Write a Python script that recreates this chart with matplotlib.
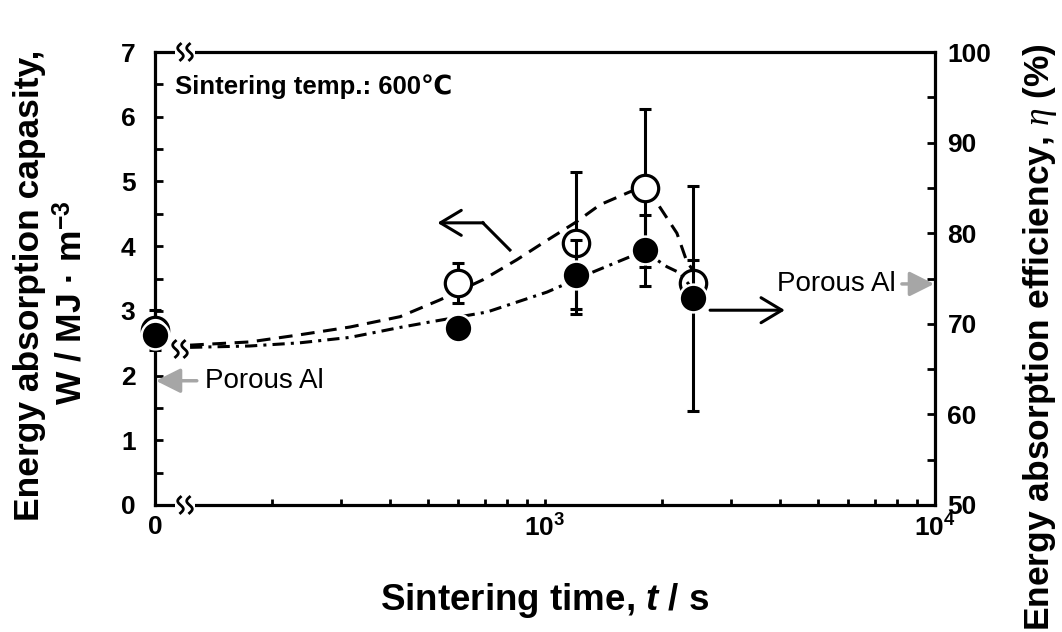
import numpy as np
import matplotlib
matplotlib.use("Agg")
import matplotlib.pyplot as plt
from matplotlib.patches import Rectangle

plt.rcParams['font.family'] = ['Liberation Sans', 'DejaVu Sans']
plt.rcParams['mathtext.fontset'] = 'custom'
plt.rcParams['mathtext.rm'] = 'Liberation Sans'
plt.rcParams['mathtext.bf'] = 'Liberation Sans:bold'
plt.rcParams['mathtext.it'] = 'Liberation Serif:italic'
plt.rcParams['mathtext.bfit'] = 'Liberation Sans:bold:italic'

# ---------------- data ----------------
times = [0, 600, 1200, 1800, 2400]            # sintering time (s); 0 drawn at left edge
capacity = [2.70, 3.43, 4.05, 4.90, 3.43]      # W / MJ m^-3 (open circles)
capacity_err = [0.31, 0.31, 1.10, 1.22, 0.36]
efficiency = [68.8, 69.5, 75.4, 78.1, 72.8]    # eta % (filled circles)
efficiency_err = [1.0, 1.0, 3.8, 3.9, 12.4]

# guide curves (hand drawn trend lines)
cap_curve_t = [123, 175, 235, 316, 425, 538, 693, 847, 988, 1200, 1384, 1652, 1782, 1937, 2179, 2311, 2400]
cap_curve_w = [2.47, 2.52, 2.63, 2.75, 2.91, 3.17, 3.48, 3.79, 4.05, 4.37, 4.64, 4.84, 4.90, 4.67, 4.20, 3.76, 3.62]
eff_curve_t = [123, 175, 235, 316, 425, 507, 710, 1012, 1325, 1652, 1782, 2054, 2221, 2400]
eff_curve_e = [67.4, 67.55, 67.9, 68.5, 69.6, 70.2, 71.3, 73.5, 75.7, 77.4, 78.1, 76.3, 75.6, 73.7]

porous_al_capacity = 1.92
porous_al_efficiency = 74.4

x_ticks = [100, 1000, 10000]
x_ticklabels = ['0', r'$\mathbf{10^{3}}$', r'$\mathbf{10^{4}}$']
y_left_ticks = [0, 1, 2, 3, 4, 5, 6, 7]
y_right_ticks = [50, 60, 70, 80, 90, 100]

XMIN = 100
xpos = [t if t > 0 else XMIN for t in times]

# ---------------- figure ----------------
W, H = 1062, 632
fig = plt.figure(figsize=(W / 100, H / 100), dpi=100)
ax = fig.add_axes([155 / W, 1 - 505 / H, 780 / W, 453 / H])
ax.set_xscale('log')
ax.set_xlim(100, 10000)
ax.set_ylim(0, 7)
ax2 = ax.twinx()
ax2.set_ylim(50, 100)

lw = 2.3
for s in ['left', 'top', 'bottom']:
    ax.spines[s].set_linewidth(lw)
ax.spines['right'].set_visible(False)
for s in ['left', 'top', 'bottom']:
    ax2.spines[s].set_visible(False)
ax2.spines['right'].set_linewidth(lw)

# ticks
ax.set_xticks(x_ticks)
ax.set_xticklabels(x_ticklabels)
ax.xaxis.set_minor_locator(matplotlib.ticker.LogLocator(base=10, subs=np.arange(2, 10)))
ax.xaxis.set_minor_formatter(matplotlib.ticker.NullFormatter())
ax.tick_params(axis='x', which='both', direction='in', length=4, width=2, top=False,
               labelsize=19, pad=7)
ax.set_yticks(y_left_ticks)
ax.yaxis.set_minor_locator(matplotlib.ticker.MultipleLocator(0.5))
ax.tick_params(axis='y', which='both', direction='in', length=6, width=2, right=False,
               labelsize=19, pad=14)
ax2.set_yticks(y_right_ticks)
ax2.yaxis.set_minor_locator(matplotlib.ticker.MultipleLocator(5))
ax2.tick_params(axis='y', which='both', direction='in', length=6, width=2,
                labelsize=19, pad=9)
for lab in ax.get_xticklabels() + ax.get_yticklabels() + ax2.get_yticklabels():
    lab.set_fontweight('bold')

# guide curves
ax.plot(cap_curve_t, cap_curve_w, color='black', lw=2.2, ls=(0, (4.5, 2.8)), zorder=1)
ax2.plot(eff_curve_t, eff_curve_e, color='black', lw=2.2, ls=(0, (4.0, 2.0, 1.0, 2.0)), zorder=1)

# open circles (capacity)
ax.errorbar(xpos, capacity, yerr=capacity_err, fmt='none', ecolor='black',
            elinewidth=2.2, capsize=4.5, capthick=2.2, zorder=2, clip_on=False)
ax.plot(xpos, capacity, 'o', ms=19, mfc='white', mec='black', mew=2.3, zorder=3, clip_on=False)

# filled circles (efficiency)
ax2.errorbar(xpos, efficiency, yerr=efficiency_err, fmt='none', ecolor='black',
             elinewidth=2.2, capsize=4.5, capthick=2.2, zorder=2, clip_on=False)
ax2.plot(xpos, efficiency, 'o', ms=20, mfc='black', mec='white', mew=1.8, zorder=3, clip_on=False)

# axis breaks
def squiggle(axx, xf_px, yf_px):
    h = 8
    yy = np.linspace(-h, h, 40)
    for dx in (-4.5, 4.5):
        xx = xf_px + dx + 2.8 * np.sin(np.pi * yy / h)
        axx.plot(xx / W, 1 - (yf_px + yy) / H, color='black', lw=2.0,
                 transform=fig.transFigure, clip_on=False, zorder=10)

for ypx in (52, 505):
    ax2.add_patch(Rectangle((175 / W, 1 - (ypx + 4) / H), 20 / W, 8 / H,
                            transform=fig.transFigure, facecolor='white', edgecolor='none',
                            clip_on=False, zorder=9))
    squiggle(ax2, 185, ypx)
ax2.add_patch(Rectangle((172 / W, 1 - 360 / H), 18 / W, 22 / H,
                        transform=fig.transFigure, facecolor='white', edgecolor='none',
                        clip_on=False, zorder=9))
squiggle(ax2, 180, 349)

# annotations
ax.text(0.0256, 0.923, 'Sintering temp.: 600\u2103', transform=ax.transAxes,
        fontsize=18.5, fontweight='bold', va='center', ha='left',
        family=['Liberation Sans', 'DejaVu Sans'])

# left black arrow (pointing to capacity axis)
ax.plot([813, 693], [3.94, 4.36], color='black', lw=2.2, zorder=4)
ax.annotate('', xy=(530, 4.36), xytext=(695, 4.36),
            arrowprops=dict(arrowstyle='->,head_length=0.5,head_width=0.3', color='black', lw=2.2,
                            mutation_scale=30, shrinkA=0, shrinkB=0))
# right black arrow (pointing to efficiency axis)
ax2.annotate('', xy=(4121, 71.5), xytext=(2650, 71.5),
             arrowprops=dict(arrowstyle='->,head_length=0.5,head_width=0.3', color='black', lw=2.2,
                             mutation_scale=30, shrinkA=0, shrinkB=0))

# Porous Al reference arrows
ax.annotate('', xy=(100.5, porous_al_capacity), xytext=(128, porous_al_capacity),
            arrowprops=dict(arrowstyle='-|>,head_length=0.5,head_width=0.25', color='#a6a6a6', lw=2.5,
                            mutation_scale=30, shrinkA=0, shrinkB=0), annotation_clip=False)
ax.text(134, porous_al_capacity, 'Porous Al', fontsize=20, va='center', ha='left')
ax2.annotate('', xy=(9950, porous_al_efficiency), xytext=(8224, porous_al_efficiency),
             arrowprops=dict(arrowstyle='-|>,head_length=0.5,head_width=0.25', color='#a6a6a6', lw=2.5,
                             mutation_scale=30, shrinkA=0, shrinkB=0), annotation_clip=False)
ax2.text(7950, porous_al_efficiency, 'Porous Al', fontsize=20, va='center', ha='right')

# axis labels
fig.text(545 / W, 1 - 600 / H, r'Sintering time, $\mathbfit{t}$ / s', fontsize=26.5,
         fontweight='bold', ha='center', va='center')
fig.text(30 / W, 1 - 285 / H, 'Energy absorption capasity,', fontsize=25.5,
         fontweight='bold', ha='center', va='center', rotation=90)
fig.text(72 / W, 1 - 303 / H, 'W / MJ \u00b7 m$^{\\mathbf{-3}}$', fontsize=25.5,
         fontweight='bold', ha='center', va='center', rotation=90)
fig.text(1040 / W, 1 - 337 / H, r'Energy absorption efficiency, $\eta$ (%)', fontsize=25.5,
         fontweight='bold', ha='center', va='center', rotation=90)

fig.savefig('out.png', dpi=100)
